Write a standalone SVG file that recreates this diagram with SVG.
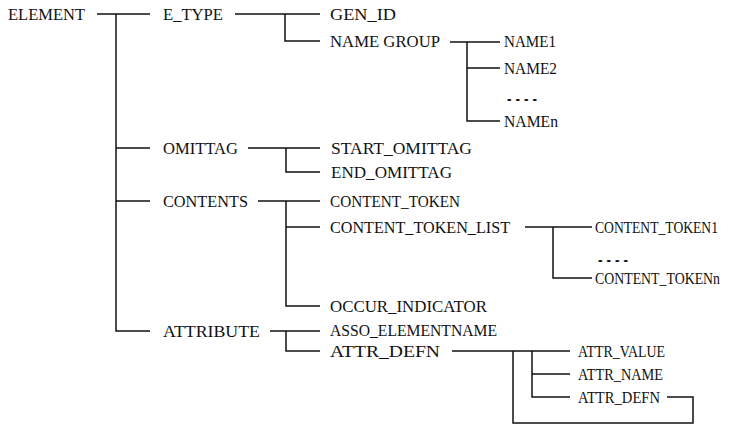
<svg xmlns="http://www.w3.org/2000/svg" width="749" height="443" viewBox="0 0 749 443">
<style>
text{font-family:"Liberation Serif","Times New Roman",serif;font-size:17px;fill:#111;}
.t{font-size:16px;}
.c path{fill:none;stroke:#111;stroke-width:1.5;}
</style>
<rect width="749" height="443" fill="#fff"/>
<g class="c" id="connectors">
<path d="M97 14H150M116 14V331H150"/>
<path d="M116 148H150M116 201H150"/>
<path d="M235 14H320M285 14V41H320"/>
<path d="M450 42H500M467 42V121H500M467 68H500"/>
<path d="M248 148H320M286 148V172H320"/>
<path d="M258 201H320M286 201V306H320M286 227H320"/>
<path d="M525 227H592M553 227V278H592"/>
<path d="M270 331H320M286 331V351H320"/>
<path d="M452 351H570M513 351V423H693V397H667M532 351V397H570M532 374H570"/>
</g>
<g id="n-element"><text x="8" y="20" textLength="77" lengthAdjust="spacingAndGlyphs">ELEMENT</text></g>
<g id="n-etype"><text x="163" y="20" textLength="60" lengthAdjust="spacingAndGlyphs">E_TYPE</text></g>
<g id="n-genid"><text x="330" y="20" textLength="66" lengthAdjust="spacingAndGlyphs">GEN_ID</text></g>
<g id="n-namegroup"><text x="330" y="47" textLength="110" lengthAdjust="spacingAndGlyphs">NAME GROUP</text></g>
<g id="n-name1"><text x="504" y="47" textLength="52" lengthAdjust="spacingAndGlyphs">NAME1</text></g>
<g id="n-name2"><text x="504" y="74" textLength="53" lengthAdjust="spacingAndGlyphs">NAME2</text></g>
<g id="n-namedots"><text x="505" y="101" textLength="34" lengthAdjust="spacingAndGlyphs">....</text></g>
<g id="n-namen"><text x="504" y="127" textLength="54" lengthAdjust="spacingAndGlyphs">NAMEn</text></g>
<g id="n-omittag"><text x="163" y="154" textLength="75" lengthAdjust="spacingAndGlyphs">OMITTAG</text></g>
<g id="n-startomittag"><text x="331" y="154" textLength="141" lengthAdjust="spacingAndGlyphs">START_OMITTAG</text></g>
<g id="n-endomittag"><text x="331" y="178" textLength="121" lengthAdjust="spacingAndGlyphs">END_OMITTAG</text></g>
<g id="n-contents"><text x="163" y="207" textLength="85" lengthAdjust="spacingAndGlyphs">CONTENTS</text></g>
<g id="n-contenttoken"><text x="330" y="207" textLength="130" lengthAdjust="spacingAndGlyphs">CONTENT_TOKEN</text></g>
<g id="n-contenttokenlist"><text x="330" y="233" textLength="180" lengthAdjust="spacingAndGlyphs">CONTENT_TOKEN_LIST</text></g>
<g id="n-contenttoken1"><text x="595" y="233" textLength="123" lengthAdjust="spacingAndGlyphs">CONTENT_TOKEN1</text></g>
<g id="n-tokendots"><text x="596" y="262" textLength="34" lengthAdjust="spacingAndGlyphs">....</text></g>
<g id="n-contenttokenn"><text x="595" y="284" textLength="125" lengthAdjust="spacingAndGlyphs">CONTENT_TOKENn</text></g>
<g id="n-occur"><text x="330" y="312" textLength="157" lengthAdjust="spacingAndGlyphs">OCCUR_INDICATOR</text></g>
<g id="n-attribute"><text x="163" y="337" textLength="97" lengthAdjust="spacingAndGlyphs">ATTRIBUTE</text></g>
<g id="n-asso"><text class="t" x="330" y="336" textLength="167" lengthAdjust="spacingAndGlyphs">ASSO_ELEMENTNAME</text></g>
<g id="n-attrdefn"><text class="t" x="330" y="357" textLength="110" lengthAdjust="spacingAndGlyphs">ATTR_DEFN</text></g>
<g id="n-attrvalue"><text x="578" y="357" textLength="87" lengthAdjust="spacingAndGlyphs">ATTR_VALUE</text></g>
<g id="n-attrname"><text x="578" y="380" textLength="85" lengthAdjust="spacingAndGlyphs">ATTR_NAME</text></g>
<g id="n-attrdefn2"><text x="578" y="403" textLength="82" lengthAdjust="spacingAndGlyphs">ATTR_DEFN</text></g>
</svg>
